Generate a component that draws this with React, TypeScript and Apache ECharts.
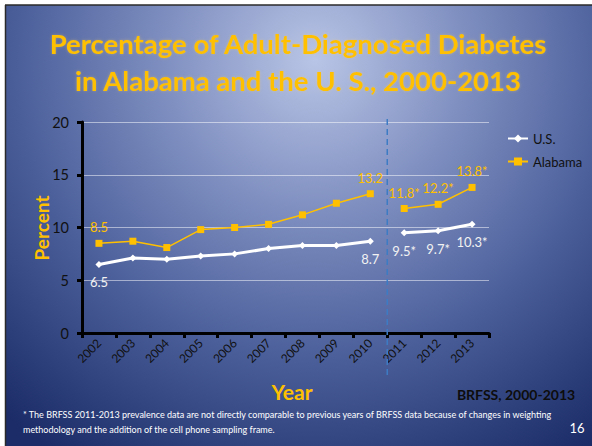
import React, { useEffect, useRef } from "react";
import * as echarts from "echarts";

const years = ["2002", "2003", "2004", "2005", "2006", "2007", "2008", "2009", "2010", "2011", "2012", "2013"];
const usValues = [6.5, 7.1, 7.0, 7.3, 7.5, 8.0, 8.3, 8.3, 8.7, 9.5, 9.7, 10.3];
const alabamaValues = [8.5, 8.7, 8.1, 9.8, 10.0, 10.3, 11.2, 12.3, 13.2, 11.8, 12.2, 13.8];
// Years whose point carries a value label
const labeledYears = ["2002", "2010", "2011", "2012", "2013"];
// First year of the re-weighted BRFSS data (values marked with *)
const firstNewMethodYear = "2011";
const yTicks = { min: 0, max: 20, interval: 5 };

const titleLines = [
  "Percentage of Adult-Diagnosed Diabetes",
  "in Alabama and the U. S., 2000-2013",
];
const footnoteLines = [
  "* The BRFSS 2011-2013 prevalence data are not directly comparable to previous years of BRFSS data because of changes in weighting",
  "methodology and the addition of the cell phone sampling frame.",
];

const W = 592;
const H = 446;
const FONT = "Lato, 'Open Sans', sans-serif";
const GOLD = "#FFC000";

const splitIdx = years.indexOf(firstNewMethodYear);

function segment(values: number[], early: boolean) {
  return values.map((v, i) => {
    const inPart = early ? i < splitIdx : i >= splitIdx;
    if (!inPart) return "-";
    return { value: v, label: { show: labeledYears.includes(years[i]) } };
  });
}

function fmt(p: any) {
  const star = p.dataIndex >= splitIdx ? "*" : "";
  return Number(p.value).toFixed(1) + star;
}

export default function App() {
  const ref = useRef<HTMLDivElement>(null);

  useEffect(() => {
    if (!ref.current) return;
    const chart = echarts.init(ref.current, undefined, { renderer: "svg" });

    const usStyle = {
      type: "line" as const,
      name: "U.S.",
      symbol: "diamond",
      symbolSize: 7,
      itemStyle: { color: "#ffffff" },
      lineStyle: { color: "#ffffff", width: 3 },
      label: { position: "bottom", distance: 8, color: "#f2f2f2", fontSize: 13, fontFamily: FONT, formatter: fmt },
      z: 3,
    };
    const alStyle = {
      type: "line" as const,
      name: "Alabama",
      symbol: "rect",
      symbolSize: 7,
      itemStyle: { color: GOLD },
      lineStyle: { color: GOLD, width: 1.5 },
      label: { position: "top", distance: 6, color: GOLD, fontSize: 13, fontFamily: FONT, formatter: fmt },
      z: 2,
    };

    const graphics: any[] = [
      {
        type: "rect",
        z: -10,
        silent: true,
        shape: { x: 6, y: 5, width: W - 6, height: H - 5 },
        style: {
          fill: new echarts.graphic.RadialGradient(315, 60, 470, [
            { offset: 0, color: "#b9c5e6" },
            { offset: 0.32, color: "#7f8fc0" },
            { offset: 0.64, color: "#4a5e9a" },
            { offset: 1, color: "#1b2c68" },
          ], true),
        },
      },
      { type: "line", z: -9, silent: true, shape: { x1: 5, y1: 5, x2: W, y2: 5 }, style: { stroke: "#2a2a2a", lineWidth: 1.5 } },
      { type: "line", z: -9, silent: true, shape: { x1: 5.5, y1: 5, x2: 5.5, y2: H }, style: { stroke: "#2a2a2a", lineWidth: 1.5 } },
      ...titleLines.map((t, i) => ({
        type: "text",
        x: 298,
        y: 43 + i * 37,
        style: {
          text: t,
          fill: GOLD,
          font: `bold 27.5px ${FONT}`,
          textAlign: "center",
          textVerticalAlign: "middle",
          textShadowColor: "rgba(255,210,80,0.35)",
          textShadowBlur: 3,
        },
      })),
      {
        type: "text",
        x: 41,
        y: 228,
        rotation: Math.PI / 2,
        style: { text: "Percent", fill: GOLD, font: `bold 19px ${FONT}`, textAlign: "center", textVerticalAlign: "middle" },
      },
      {
        type: "text",
        x: 292,
        y: 391,
        style: { text: "Year", fill: GOLD, font: `bold 21px ${FONT}`, textAlign: "center", textVerticalAlign: "middle" },
      },
      {
        type: "text",
        x: 516,
        y: 394,
        style: { text: "BRFSS, 2000-2013", fill: "#0d0d0d", font: `bold 14px ${FONT}`, textAlign: "center", textVerticalAlign: "middle" },
      },
      ...footnoteLines.map((t, i) => ({
        type: "text",
        x: 23,
        y: 414 + i * 15,
        style: { text: t, fill: "#ffffff", font: `9px ${FONT}`, textAlign: "left", textVerticalAlign: "middle" },
      })),
      {
        type: "text",
        x: 577,
        y: 428,
        style: { text: "16", fill: "#ffffff", font: `13px ${FONT}`, textAlign: "center", textVerticalAlign: "middle" },
      },
    ];

    chart.setOption({
      animation: false,
      backgroundColor: "#ffffff",
      textStyle: { fontFamily: FONT },
      grid: { left: 82, right: 103, top: 122, bottom: 113 },
      legend: {
        orient: "vertical",
        left: 502,
        top: 127,
        itemWidth: 20,
        itemHeight: 10,
        itemGap: 10,
        textStyle: { fontSize: 13, color: "#111111", fontFamily: FONT },
        data: ["U.S.", "Alabama"],
      },
      xAxis: {
        type: "category",
        data: years,
        boundaryGap: true,
        axisLine: { show: true, lineStyle: { color: "#000000", width: 3 } },
        axisTick: { show: true, length: 5, lineStyle: { color: "#000000", width: 3 } },
        axisLabel: { rotate: 45, fontSize: 12, color: "#111111", margin: 8, fontFamily: FONT },
        splitLine: { show: false },
      },
      yAxis: {
        type: "value",
        min: yTicks.min,
        max: yTicks.max,
        interval: yTicks.interval,
        axisLine: { show: true, lineStyle: { color: "#000000", width: 3 } },
        axisTick: { show: true, length: 5, lineStyle: { color: "#000000", width: 3 } },
        axisLabel: { fontSize: 14.5, color: "#111111", margin: 13, fontFamily: FONT },
        splitLine: { lineStyle: { color: "rgba(255,255,255,0.5)", width: 1 } },
      },
      series: [
        { ...alStyle, data: segment(alabamaValues, true) },
        { ...alStyle, data: segment(alabamaValues, false) },
        { ...usStyle, data: segment(usValues, true) },
        { ...usStyle, data: segment(usValues, false) },
      ],
      graphic: graphics,
    });

    // Dashed separator between the two survey methodologies, placed between category slots
    const xa = chart.convertToPixel({ xAxisIndex: 0 }, years[splitIdx - 1]) as number;
    const xb = chart.convertToPixel({ xAxisIndex: 0 }, years[splitIdx]) as number;
    const yTop = chart.convertToPixel({ yAxisIndex: 0 }, yTicks.max) as number;
    const yBottom = chart.convertToPixel({ yAxisIndex: 0 }, yTicks.min) as number;
    const xm = (xa + xb) / 2;
    chart.setOption({
      graphic: [
        ...graphics,
        {
          type: "line",
          z: 1,
          silent: true,
          shape: { x1: xm, y1: yTop - 3, x2: xm, y2: yBottom + 46 },
          style: { stroke: "#3d7cc4", lineWidth: 1.5, lineDash: [6, 4] },
        },
      ],
    });

    return () => chart.dispose();
  }, []);

  return <div ref={ref} style={{ position: "fixed", left: 0, top: 0, width: W, height: H }} />;
}
